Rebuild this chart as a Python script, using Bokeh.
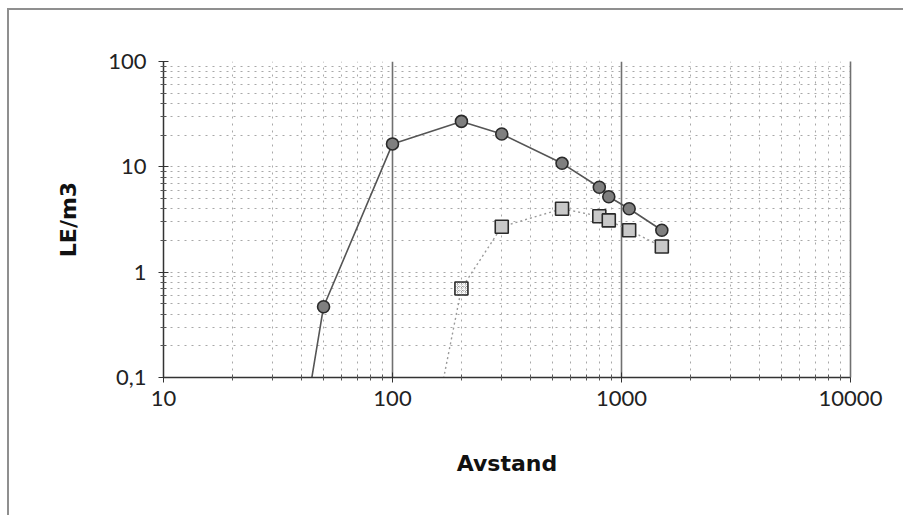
from bokeh.plotting import figure
from bokeh.models import ColumnDataSource, FixedTicker, CustomJSTickFormatter, LogAxis
from bokeh.embed import file_html
from bokeh.resources import INLINE

# Odour concentration versus distance
dist_circ = [40, 50, 100, 200, 300, 550, 800, 880, 1080, 1500]
le_circ = [0.025, 0.47, 16.5, 27, 20.5, 10.8, 6.4, 5.2, 4.0, 2.5]

dist_sq = [150, 200, 300, 550, 800, 880, 1080, 1500]
le_sq = [0.03, 0.70, 2.7, 4.0, 3.4, 3.1, 2.5, 1.75]

x_major = [10, 100, 1000, 10000]
y_major = [0.1, 1, 10, 100]

x_minor = [m * d for d in (10, 100, 1000) for m in range(2, 10)]
y_minor = [m * d for d in (0.1, 1, 10) for m in range(2, 10)]

src_c = ColumnDataSource(dict(x=dist_circ, y=le_circ))
src_s = ColumnDataSource(dict(x=dist_sq, y=le_sq))
src_s_main = ColumnDataSource(dict(x=dist_sq[2:], y=le_sq[2:]))
src_s_first = ColumnDataSource(dict(x=dist_sq[1:2], y=le_sq[1:2]))

p = figure(
    width=896, height=507,
    x_axis_type="log", y_axis_type="log",
    x_range=(10, 10000), y_range=(0.1, 100),
    output_backend="svg", toolbar_location=None,
    min_border_left=154, min_border_right=55,
    min_border_top=51, min_border_bottom=140,
)
p.styles = {
    "margin-left": "7px", "margin-top": "8px",
    "border-left": "2px solid #8f8f8f", "border-top": "2px solid #8f8f8f",
}
p.outline_line_color = None
p.background_fill_color = "white"
p.border_fill_color = "white"

fmt = CustomJSTickFormatter(code="""
    return tick < 1 ? tick.toString().replace('.', ',') : tick.toFixed(0);
""")

p.xaxis.ticker = FixedTicker(ticks=x_major, minor_ticks=x_minor)
p.yaxis.ticker = FixedTicker(ticks=y_major, minor_ticks=y_minor)
p.xaxis.formatter = fmt
p.yaxis.formatter = fmt

for ax in (p.xaxis, p.yaxis):
    ax.axis_line_color = "#333333"
    ax.axis_line_width = 1.5
    ax.major_tick_line_color = "#333333"
    ax.minor_tick_line_color = "#555555"
    ax.major_tick_in = 5
    ax.major_tick_out = 5
    ax.minor_tick_in = 3
    ax.minor_tick_out = 3
    ax.major_label_text_font = "Lato"
    ax.major_label_text_font_size = "22px"
    ax.major_label_text_color = "#222222"
    ax.axis_label_text_font = "DejaVu Sans"
    ax.axis_label_text_font_style = "bold"
    ax.axis_label_text_font_size = "22px"
    ax.axis_label_text_color = "#111111"

p.xaxis.axis_label = "Avstand"
p.yaxis.axis_label = "LE/m3"
p.xaxis.major_label_standoff = 8
p.yaxis.major_label_standoff = 12
p.xaxis.axis_label_standoff = 42
p.yaxis.axis_label_standoff = 24

# right-hand frame edge at 10000
right_edge = LogAxis(ticker=FixedTicker(ticks=[]), major_label_text_font_size="0px",
                     axis_line_color="#707070", axis_line_width=1.6,
                     major_tick_line_color=None, minor_tick_line_color=None)
p.add_layout(right_edge, "right")

# grid: solid verticals at decades, fine dotted mesh elsewhere
p.xgrid.ticker = FixedTicker(ticks=x_major, minor_ticks=x_minor)
p.ygrid.ticker = FixedTicker(ticks=y_major, minor_ticks=y_minor)
p.xgrid.grid_line_color = "#707070"
p.xgrid.grid_line_width = 1.6
p.ygrid.grid_line_color = "#a8a8a8"
p.ygrid.grid_line_dash = "2 5"
p.ygrid.grid_line_width = 1
p.xgrid.minor_grid_line_color = "#a8a8a8"
p.xgrid.minor_grid_line_dash = "2 5"
p.ygrid.minor_grid_line_color = "#a8a8a8"
p.ygrid.minor_grid_line_dash = "2 5"

# series with circle markers
p.line("x", "y", source=src_c, line_color="#555555", line_width=1.6)
p.scatter("x", "y", source=src_c, marker="circle", size=12,
          fill_color="#7f7f7f", line_color="#2a2a2a", line_width=1.6)

# series with square markers
p.line("x", "y", source=src_s, line_color="#9a9a9a", line_width=1.4,
       line_dash="2 3")
p.scatter("x", "y", source=src_s_main, marker="square", size=13,
          fill_color="#c9c9c9", line_color="#2a2a2a", line_width=1.6)
p.scatter("x", "y", source=src_s_first, marker="square", size=13,
          fill_color="#9a9a9a", line_color="#2a2a2a", line_width=1.6,
          hatch_pattern="criss_cross", hatch_color="white", hatch_scale=4,
          hatch_weight=1)

open("out.html", "w").write(file_html(p, INLINE))
